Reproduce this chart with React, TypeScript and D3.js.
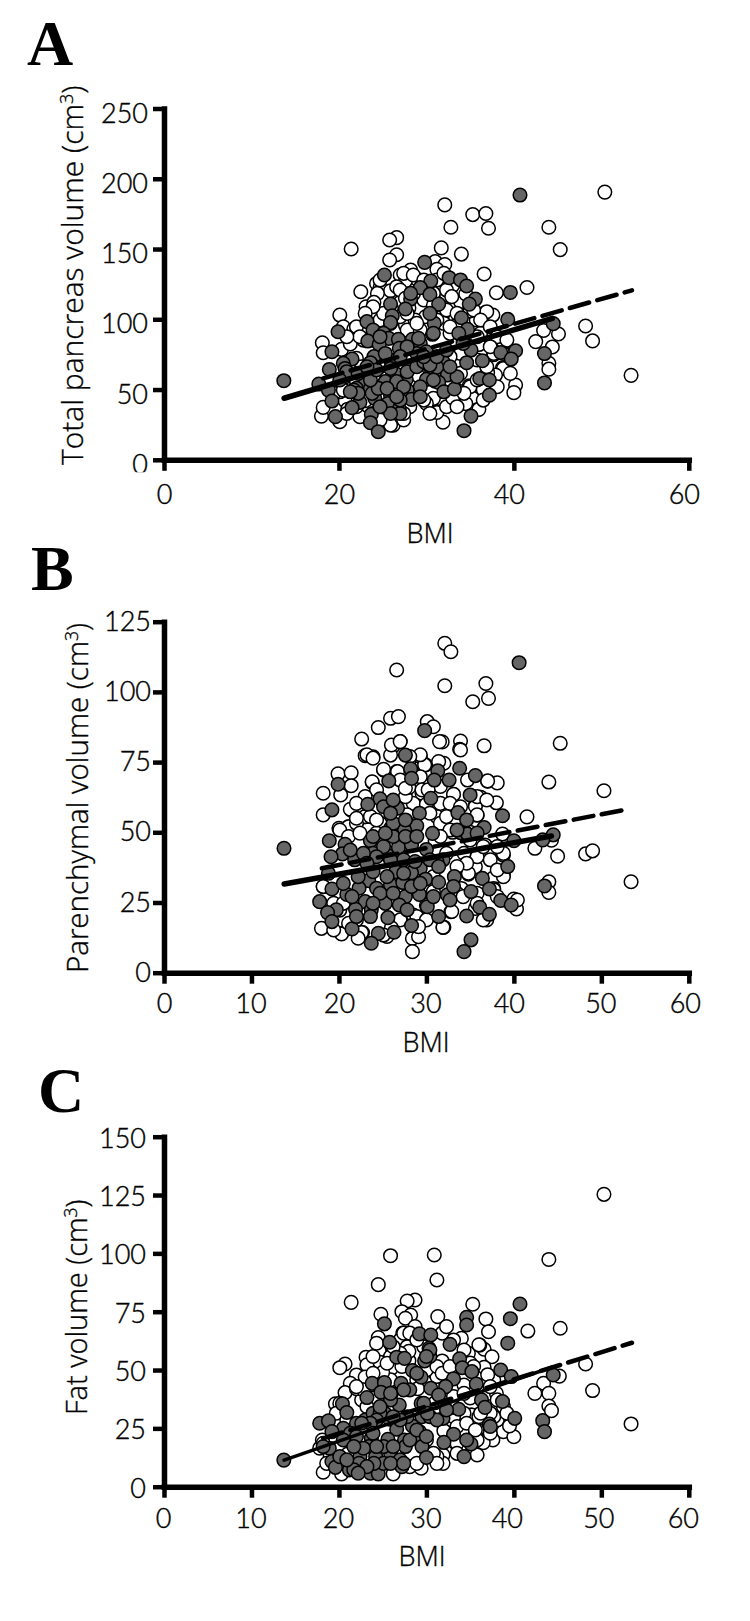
// App.tsx - pancreas volume vs BMI, three stacked scatter panels
import * as d3 from "d3";
import React, { useRef, useEffect } from "react";

type Pt = [number, number];

const bmiLabel = "BMI";

// panel A: [BMI, total pancreas volume]
const totalWhite: Pt[] = [
  [50.4, 190.5], [32.1, 181.4], [35.3, 174.5], [36.8, 175.3], [32.8, 165.5], [37.1, 164.8], [44, 165.5], [45.3, 149.6],
  [34, 146.4], [31.7, 150.8], [36.6, 132.2], [38, 118.9], [41.5, 122.6], [31, 141], [32.1, 139], [48.2, 95.2],
  [49, 84.6], [53.4, 60.1], [43.4, 92], [45.1, 89.5], [42.5, 84.1], [44.4, 80.3], [44, 68.7], [44, 64.5],
  [40.2, 53.2], [40, 47.8], [38.8, 83.4], [38.7, 65.5], [37.6, 103], [36.7, 104.7], [37.7, 74.8], [35.3, 43.7],
  [35.8, 35.6], [31.2, 34.4], [31.9, 26.8], [30.8, 43.7], [34.9, 52.7], [26.2, 24.6], [26.6, 158.1], [25.8, 156.4],
  [26.6, 145.9], [25.8, 142.2], [21.4, 150], [22.5, 119.6], [23.1, 108.9], [20.1, 103], [20.5, 94.7], [21.7, 93],
  [18.1, 83.3], [18.2, 76.2], [20.3, 78.6], [21.3, 82.4], [23.9, 104.2], [24.3, 125.5], [24.7, 122.7], [25.9, 120.3],
  [24.4, 118.4], [27, 131.5], [28.2, 135], [28.8, 129.1], [27.6, 127.2], [31.2, 135.5], [29.9, 101.8], [27.6, 95.9],
  [28.7, 99.5], [26.6, 123.2], [31.6, 123.2], [32.3, 117.2], [33.9, 112.5], [29.7, 113.7], [36.9, 105.4], [35.7, 99.5],
  [31.8, 101.8], [32.7, 90], [36.2, 90], [37.7, 75.7], [38.8, 65], [38.8, 84], [37.9, 60.3], [35, 52],
  [33.9, 61.5], [35.8, 71], [28.1, 37.8], [25.9, 24.7], [31.2, 33.7], [36, 35.9], [20.1, 27.1], [18, 31.1],
  [18.2, 37.3], [20.7, 42], [20.1, 48.4], [22.4, 30.7], [22, 72.2], [22.6, 66.2], [24.7, 66.2], [21.3, 50.1],
  [33.5, 49.6], [32.3, 37.8], [30, 40.1], [23.9, 33], [25.1, 34.2], [27.4, 28.3], [28.9, 44.9], [22.8, 85.2],
  [24.7, 99.5], [23.9, 85.2], [27.8, 92.3], [29.3, 92.3], [32, 97.1], [33.9, 75.7], [32.7, 73.4], [30.4, 66.2],
  [27, 112], [28.5, 118], [30.2, 126], [33, 124], [34.5, 118], [35, 106], [26, 108], [24, 112],
  [28, 108], [30.8, 110], [33.5, 96], [36, 82], [34.2, 84], [22, 56], [24, 52], [26, 44],
  [29, 60], [31, 56], [33, 44], [34.5, 40], [21, 36], [23, 42], [36.5, 50], [37, 62],
  [24.7, 127.9], [27.4, 132.7], [28.5, 131.5], [27, 120.8], [27.6, 114.9], [29.7, 127.9], [31.2, 127.9], [32.3, 120.8],
  [32.9, 116.1], [32, 132.7], [30.8, 118.4], [32.3, 106.6], [33.5, 104.2], [35.4, 106.6], [36.2, 99.5], [37.3, 94.7],
  [38.1, 87.6], [39.2, 85.2], [35.8, 87.6], [28.9, 97.1], [27, 101.8], [27.8, 104.2], [25.9, 97.1], [25.1, 104.2],
  [23.9, 108.9], [23, 104.2], [22, 94.7], [22.4, 87.6], [20.9, 87.6], [31.2, 99.5], [32.7, 94.7], [37.3, 80.5],
  [38.8, 75.7], [39.6, 61.5], [36.9, 66.2], [35.8, 56.8], [38.1, 52], [34.3, 47.3], [32.7, 56.8], [33.5, 37.8],
  [36.5, 42.5], [29.7, 42.5], [30.4, 33], [27.4, 33], [24.7, 28.3], [22, 37.8], [20.9, 33], [19.4, 47.3], [20.5, 49.6],
];
const totalGray: Pt[] = [
  [13.7, 56.3], [44.5, 96.9], [43.5, 75.6], [43.5, 54.7],
  [40.7, 188.4], [29.8, 140.5], [25.2, 131.5], [32.6, 129.6], [33.9, 128], [34.6, 123.7], [30.5, 127.2], [29.3, 122.5],
  [30.4, 117.7], [28.2, 114.4], [35.6, 114.4], [39.6, 119.1], [34.9, 110.8], [25.9, 110.8], [31.4, 110.8], [27.6, 107.3],
  [26.1, 102.5], [25.9, 97.6], [39.3, 99.9], [34, 101.1], [23.2, 98.3], [30.9, 97.1], [23.9, 92.3], [19.9, 91.1],
  [30.7, 89.3], [34.7, 92.8], [33.7, 90], [25.1, 90], [25.7, 86.4], [26.8, 85.7], [28.4, 85.7], [23.3, 84.5],
  [24.6, 82.1], [26.9, 79.3], [29.3, 82.8], [19.2, 76.9], [35.1, 78.1], [38.5, 76.4], [40.2, 77.6], [39.7, 71.7],
  [24, 73.4], [21.5, 71.7], [20.5, 68.6], [23.6, 69.1], [25.9, 71], [28.9, 75.7], [30, 76.9], [31.9, 69.8],
  [34.6, 69.1], [36.4, 70.5], [18.9, 64.3], [20.7, 65], [31.2, 65.8], [28.5, 66.2], [26.6, 60.8], [32.4, 60.3],
  [36.1, 57.9], [37.2, 56.8], [27.7, 57.2], [25.3, 55.6], [30, 57.2], [17.7, 53.9], [23, 54.4], [31.4, 55.1],
  [29.3, 52], [18.8, 49.6], [27.8, 49.6], [22, 50.8], [23.6, 50.8], [25.9, 46], [32, 48.4], [33.2, 50.4],
  [37.2, 46], [24.1, 43.7], [19.2, 41.8], [25.6, 40.1], [28.3, 43], [22.4, 40.9], [21.5, 37.1], [26.9, 36.1],
  [23.7, 32.3], [19.6, 30.7], [23.6, 26.4], [27, 33], [35.1, 31.1], [24.5, 20], [34.3, 20.7],
  [21.7, 49.6], [22.2, 47.3], [23.8, 47.3], [24.5, 50.8], [26.6, 55.6], [25.9, 65], [27.8, 62.7], [28.9, 66.2],
  [29.7, 69.8], [30.4, 67.4], [23.6, 56.8], [27.8, 80.5], [27, 73.4], [25.3, 75.7], [24.7, 87.6], [29.1, 86.4],
  [29.7, 73.4], [25.9, 33], [27, 42.5], [24.7, 37.8], [31.2, 73.4], [33.5, 59.1], [32.3, 78.1], [34.2, 82.8],
  [28.2, 118.4], [30.4, 104.2], [30.8, 90], [20.9, 62.7], [20.1, 56.8], [22.2, 61.5], [24.3, 63.9], [27.4, 52],
  [30.8, 56.8], [32.7, 66.2], [23.2, 66.2], [25.5, 50.8], [26.6, 44.9], [29.3, 44.9], [21.3, 48.4],
];
const totalSolid: Pt[] = [[13.73, 43.8], [44.4, 100.6]];
const totalDashed: Pt[] = [[18.2, 58], [53.5, 120.6]];

// panel B: [BMI, parenchymal volume]
const parenchymaWhite: Pt[] = [
  [32.1, 117.3], [32.8, 114.3], [32.1, 102.2], [36.8, 103], [37.1, 97.7], [35.3, 96.5], [45.3, 81.7], [33.9, 82.5],
  [33.8, 79.6], [36.6, 80.8], [31.8, 82.2], [44, 67.9], [50.3, 64.8], [34.7, 68.6], [37, 68.2], [38.1, 67.6],
  [33.1, 63.5], [36.2, 62.1], [35.6, 59.7], [38, 60.5], [41.5, 55.5], [35.8, 56.1], [38.7, 49.4], [42.4, 44.3],
  [44.3, 47.2], [45, 41.5], [48.2, 42.3], [49, 43.4], [53.4, 32.4], [38.8, 41.9], [35.6, 37.7], [38.8, 34.8],
  [37.7, 33.9], [34.8, 35.1], [44, 32.4], [44, 28.6], [40, 26.2], [40.3, 22.7], [36.8, 19], [32.8, 21.7],
  [31.9, 16.1], [37.7, 30], [35.6, 22.9], [37.3, 44.3], [36.1, 42.5], [36.7, 45.5], [26.6, 107.8], [25.9, 90.6],
  [26.8, 91.2], [24.5, 87.3], [22.6, 83.2], [30.1, 89.4], [30.8, 87.6], [31.5, 82.3], [27, 82.3], [26.2, 80.7],
  [25.9, 77.5], [23, 77.3], [23.9, 76.9], [25.1, 72.2], [26.6, 71.6], [19.9, 70.8], [21.4, 71.2], [21.4, 66.6],
  [20.2, 63.3], [23.8, 67.8], [18.2, 63.9], [18.2, 56.2], [21.4, 57.9], [20.1, 51.2], [21.1, 52], [22.2, 54.4],
  [23, 55.6], [24.7, 53.2], [18, 15.8], [20.3, 14], [22.7, 14.3], [28.4, 12.2], [28.4, 7.5], [29.1, 12.8],
  [32, 16.2], [28.5, 20.5], [18.2, 30.6], [20.1, 22.3], [29.5, 74.6], [29.9, 74], [29.3, 76.9], [32, 74.6],
  [28.5, 60.3], [31.2, 55.6], [33.9, 79.3], [31.4, 75.2], [29.8, 74], [29.3, 77.6], [25.1, 72.4], [26.7, 71.6],
  [23.8, 68], [37, 68.3], [36.2, 62.5], [33.1, 63.5], [31.6, 66.3], [29.5, 63.9], [27.6, 62.7], [21.3, 58.2],
  [23, 55.6], [31.6, 53.2], [35.6, 59.2], [35.8, 56.2], [27.8, 56.2], [24.7, 53.2], [20, 51.4], [21.1, 52],
  [38.8, 42.5], [34.8, 35.4], [38.8, 34.2], [18.2, 30.7], [30.8, 28.9], [32.9, 21.8], [36.9, 18.8], [31.9, 16.2],
  [20.3, 13.8], [22.6, 14.3], [25.5, 12.9], [22, 18.8], [27, 18.8], [28.9, 20], [32.3, 42.5], [34.3, 42.5],
  [37.3, 43.7], [35.8, 41.3], [35.8, 28.3], [37.7, 29.5], [24.3, 49.7], [22, 53.2], [19.4, 24.7], [33, 50],
  [31, 47], [30, 60], [28, 66], [33, 58], [35, 50], [34, 30], [30, 24], [26, 16],
  [23.2, 77.6], [23.9, 76.4], [26, 81.1], [27, 82.3], [28.1, 77], [29.3, 69.8], [27, 68.6], [24.3, 65.1],
  [23, 62.7], [22, 60.3], [27.6, 65.7], [29.5, 65.1], [30.2, 65.1], [31.6, 60.3], [32.7, 60.3], [33.9, 59.1],
  [35.8, 62.7], [36.9, 61.5], [23.6, 55.6], [22, 55], [24.3, 54.4], [30.4, 56.8], [32.3, 55.6], [32.7, 50.8],
  [31.6, 48.5], [35, 47.3], [36.5, 44.9], [38.1, 44.9], [37.3, 40.2], [38.1, 36.6], [34.6, 39], [33.5, 37.8],
  [20.1, 50.8], [21.1, 48.5], [22.4, 49.7], [20.5, 24.7], [30.8, 34.2], [33.5, 28.3], [34.2, 27.1], [35.8, 24.7],
  [38.1, 27.1], [40.4, 25.9], [36.5, 18.8], [30, 18.8], [29.1, 16.4], [25.1, 13.4], [22.2, 12.3], [19.4, 15.2], [21.1, 17.6],
];
const parenchymaGray: Pt[] = [
  [13.72, 44.3], [40.6, 110.4], [44.5, 49.1], [43.3, 47.3], [43.5, 30.9],
  [29.8, 86.2], [27.6, 77.5], [33.8, 72.8], [28.2, 72.6], [31.3, 71.9], [35.6, 70.2], [28.3, 69.2], [30.9, 68.6],
  [32.6, 68.6], [25.7, 68.3], [19.9, 67.1], [35, 63.3], [24.7, 61.9], [30.5, 62.1], [23.3, 60], [26.7, 58.6],
  [19.2, 58], [38.7, 55.9], [29.2, 56.8], [33.6, 57], [34.6, 54.4], [28.9, 52.3], [25.9, 51.4], [27.5, 50.8],
  [36.6, 51.7], [30.7, 49.6], [33.9, 49.9], [34.7, 49.4], [18.9, 47], [23.6, 47], [20.7, 45.7], [40, 47],
  [26.8, 44.7], [28.3, 45.5], [30, 43.9], [23.9, 42.5], [20.4, 42.3], [19.1, 41.3], [25.5, 41.9], [27.4, 40.2],
  [21.8, 40.2], [31.9, 40.2], [31.2, 39.6], [39.3, 37.8], [29.3, 37.2], [26.5, 36], [18.8, 35.4], [28.3, 35.6],
  [36.4, 33.6], [23.4, 32.8], [33.2, 34.2], [29.9, 33.3], [31.4, 32.2], [25.9, 31.3], [27.3, 32.1], [37.2, 29.8],
  [22.3, 30.1], [19.2, 29.8], [24.3, 30.1], [35.1, 28.9], [20.9, 27.9], [29.2, 27.9], [32.4, 27.7], [27.6, 27.1],
  [17.8, 25.3], [23, 25.3], [25.3, 24.7], [38.5, 25.7], [39.7, 24.1], [26.9, 24.1], [30.1, 23.5], [36.1, 23.3],
  [19.7, 22.4], [21.9, 22.6], [23.7, 22.4], [37.2, 20.8], [34.6, 20.2], [31.4, 20], [25.6, 19.6], [18.7, 21.4],
  [19.2, 18.2], [28.3, 16.8], [21.5, 15.6], [24.5, 14], [26.3, 14.4], [23.7, 10.5], [35.1, 11.7], [34.3, 7.5],
  [25.1, 44.9], [24.3, 41.3], [26.2, 48.5], [27.6, 48.5], [28.9, 48.5], [25.9, 40.2], [28.7, 39.6], [30.4, 40.2],
  [23.9, 36], [25.5, 34.2], [27.4, 35.4], [22.2, 34.2], [20.5, 31.8], [24.7, 28.3], [26.2, 28.3], [30.8, 27.1],
  [21.5, 27.1], [23.9, 24.7], [27.8, 22.4], [23.6, 20], [22, 20], [26.2, 53.2], [27.6, 54.4], [25.1, 59.1],
  [26.2, 61.5], [25.9, 56.8], [23.9, 48.5], [25.3, 49.7], [21.3, 43.7], [33.1, 30.7], [32.7, 25.9], [31.4, 37.8],
  [22.8, 42.5], [23.2, 39], [28.3, 30.7], [29.3, 31.8], [33.5, 50.8], [35.8, 49.7],
];
const parenchymaSolid: Pt[] = [[13.74, 31.6], [44.3, 48.7]];
const parenchymaDashed: Pt[] = [[18.05, 37.2], [52.5, 57.9]];

// panel C: [BMI, fat volume]
const fatWhite: Pt[] = [
  [50.3, 125.3], [44, 97.4], [45.3, 67.9], [41.6, 66.7], [35.3, 78.2], [36.8, 71.9], [37.1, 66.4], [34, 63.6],
  [48.2, 52.6], [49, 41.2], [53.4, 26.9], [42.4, 40], [43.4, 44.3], [44, 40], [44, 34.6], [44.3, 32.6],
  [45.2, 47.4], [36.6, 58.9], [34.8, 57.2], [37.5, 55.7], [36.6, 51.2], [37.7, 45.7], [38.8, 23.6], [40, 21.4],
  [37.6, 20], [36.5, 18.9], [35.8, 13.6], [31.9, 13.6], [31.9, 10], [33.3, 18.9], [38.8, 31.4], [35.1, 30.7],
  [35.6, 22.9], [36.1, 60.7], [25.9, 99], [30.9, 99.3], [31.2, 88.6], [24.5, 86.6], [21.4, 79], [28.7, 80],
  [27.8, 79.6], [27.2, 75], [24.8, 73.9], [28.2, 73.6], [31.3, 72.9], [27.6, 72.2], [28.7, 68.6], [27.3, 65.8],
  [24.5, 63.9], [31.8, 65.8], [36, 60.8], [24.6, 58.3], [23.1, 55.5], [23.2, 52.2], [20.7, 52.6], [20.1, 51],
  [31.8, 53.9], [26, 50.8], [22, 47.9], [24.7, 53.3], [31, 48.6], [29.4, 7.9], [26.2, 5.5], [18.2, 6.2],
  [20.3, 5.5], [18.1, 20], [17.8, 16.5], [21.3, 44.3], [20.7, 40.3], [19.6, 35.5], [22.6, 37.2], [35.2, 30.7],
  [34.3, 31.5], [38.8, 31.5], [38.8, 34.3], [38.1, 28.6], [35.8, 24.3], [33.1, 30], [33.5, 25.8], [33.1, 38.6],
  [31.2, 12.9], [30.8, 14.3], [28.1, 8.6], [20.7, 20], [23.6, 34.3], [28.9, 45.8], [34.3, 43.6], [31.2, 47.2],
  [25.9, 45.8], [37.1, 40], [37.7, 30], [32.3, 68.6], [33.1, 62.9], [27, 62.9], [29.7, 60], [27.8, 60],
  [26, 56], [28, 54], [30, 50], [33, 50], [35, 53], [22, 42], [24, 38], [26, 40],
  [32, 24], [30, 20], [34, 18], [36, 30], [38, 40], [39.5, 26], [19, 13], [21, 14],
  [23, 47], [25, 49], [29, 42], [31, 36], [33, 34], [35, 38], [37, 48], [28, 58],
  [23.9, 55.8], [25.9, 55.8], [27, 57.2], [31.2, 51.5], [31.8, 48.6], [32.7, 51.5], [37.3, 42.9], [38.1, 37.2],
  [39.2, 31.5], [37.3, 31.5], [35.8, 20], [33.5, 18.6], [33.5, 14.3], [31.2, 10], [28.9, 10], [22.8, 41.5],
  [22, 42.9], [23.2, 34.3], [20.1, 35.7], [19.7, 31.5], [20.9, 28.6], [18.2, 18.6], [18.6, 10], [27.4, 65.8],
  [28.1, 65.8], [28.9, 62.9], [26.2, 60], [24.3, 61.5], [23.9, 48.6], [25.5, 52.9], [27.2, 51.5], [34.3, 58.6],
  [35.4, 51.5], [34.3, 40], [36.2, 31.5], [34.6, 27.2], [35.6, 24.3], [37.3, 22.9],
];
const fatGray: Pt[] = [
  [13.7, 11.4], [44.5, 47.9], [43.3, 28.3], [43.5, 23.6],
  [25.2, 69.8], [29.2, 65.5], [30.5, 65], [34.6, 72.6], [34.6, 69.3], [40.7, 78.3], [39.6, 72], [39.3, 61.5],
  [25.8, 61.9], [32.7, 61], [30.3, 59.3], [26.6, 55.5], [27.5, 55], [30.4, 55.8], [29.8, 53.9], [33.8, 54.8],
  [34.1, 51], [35.2, 49.3], [38.5, 50], [39.7, 47.2], [28.4, 49.8], [29.4, 46.9], [33.1, 46.2], [35.7, 44],
  [23.8, 44.3], [25.2, 44.6], [27.1, 44.3], [32.2, 42.9], [28.1, 41.5], [30.5, 42.2], [24.8, 40.5], [23.2, 38.2],
  [31.4, 39.3], [36.3, 37.2], [38.7, 36.5], [36.7, 34], [29.4, 35.7], [26.9, 35], [20.4, 35.5], [20.9, 31.8],
  [33.7, 33.2], [25.3, 31.2], [23, 28.6], [25.8, 28.9], [17.8, 27.2], [18.8, 28.2], [20.5, 25], [19.2, 23.6],
  [22, 27.2], [29.5, 30], [31.9, 29.3], [40.1, 29.3], [37.2, 26.8], [28.4, 26], [26.6, 24.6], [29.2, 23.6],
  [33.1, 22.5], [23.7, 20.8], [25.6, 20.3], [27.5, 20], [29, 20.8], [32, 19], [35.1, 18.3], [18.9, 16.5],
  [23.4, 17.2], [25.9, 14.3], [27.6, 17.2], [29.5, 17.2], [34.3, 12.9], [30, 12.5], [27, 11.5], [22.4, 12.9],
  [19.2, 10.8], [19.6, 8.3], [22.3, 10], [23.6, 5.8], [24.5, 5.5], [21.2, 7.2], [27.2, 8.6], [24.2, 12.9],
  [23.9, 31.5], [24.7, 31.5], [25.9, 37.2], [24.7, 34.3], [27.8, 30], [27, 28.6], [26.2, 30], [24.3, 28.6],
  [23.6, 27.2], [22.6, 27.2], [21.3, 22.9], [22, 21.5], [20.5, 20], [23.9, 22.9], [25.1, 17.2], [26.2, 17.2],
  [24.3, 17.2], [22.8, 16.5], [21.7, 17.2], [28.1, 20], [28.9, 24.3], [30, 21.5], [29.7, 35.7], [30.4, 30],
  [31.2, 28.6], [32.3, 32.9], [30.1, 31.5], [25.1, 10], [24, 10], [25.9, 10], [27.4, 10], [23.2, 8.6],
  [21.7, 7.2], [22.2, 5.8], [20.1, 12.9], [18.2, 17.2], [20.9, 11.5], [37.3, 25.8], [34.6, 20], [30.4, 58.6],
  [30, 55.8], [28.9, 48.6], [25.9, 40], [27.4, 41.5],
];
const fatSolid: Pt[] = [[13.73, 11.4], [44.5, 51.4]];
const fatDashed: Pt[] = [[18.2, 20.7], [53.5, 61.7]];

const xTicksA = [0, 20, 40, 60];
const xTicksBC = [0, 10, 20, 30, 40, 50, 60];
const yTicksA = [0, 50, 100, 150, 200, 250];
const yTicksB = [0, 25, 50, 75, 100, 125];
const yTicksC = [0, 25, 50, 75, 100, 125, 150];

const TICK_FONT = "Lato, 'Open Sans', sans-serif";
const TITLE_FONT = "'Open Sans', Lato, sans-serif";

function Panel({ letter, letterX, letterY, title, titleX, titleY, titleSize, white, gray, solid, dashed,
  xTicks, xLabelShift, yTicks, yMax, top, bottom, yLabelRight, yLabelDy, xLabelY, bmiX, bmiY, clipZero, solidWidth }: any) {
  const axisX = useRef<SVGGElement>(null);
  const axisY = useRef<SVGGElement>(null);

  const x = d3.scaleLinear().domain([0, 60]).range([164, 688.8]);
  const y = d3.scaleLinear().domain([0, yMax]).range([bottom, top]);
  const line = d3.line<Pt>().x((d) => x(d[0])).y((d) => y(d[1]));

  useEffect(() => {
    const gx = d3.select(axisX.current!)
      .attr("transform", `translate(0, ${bottom})`)
      .call(d3.axisBottom(x).tickValues(xTicks).tickSize(11).tickSizeOuter(0) as any);
    const gy = d3.select(axisY.current!)
      .attr("transform", "translate(164, 0)")
      .call(d3.axisLeft(y).tickValues(yTicks).tickSize(11).tickSizeOuter(0) as any);

    // heavy black axes, the lines run a bit past the corner
    gx.select(".domain").attr("stroke", "#000").attr("stroke-width", 5.5).attr("stroke-linecap", "square");
    gy.select(".domain").attr("stroke", "#000").attr("stroke-width", 5.5).attr("stroke-linecap", "square");
    gx.selectAll(".tick line").attr("stroke", "#000").attr("stroke-width", 4.5);
    gy.selectAll(".tick line").attr("stroke", "#000").attr("stroke-width", 4.5);

    gx.selectAll<SVGTextElement, number>(".tick text")
      .attr("font-family", TICK_FONT)
      .attr("font-size", 27)
      .attr("font-weight", 300)
      .attr("fill", "#000")
      .attr("stroke", "#000")
      .attr("stroke-width", 0.4)
      .attr("y", 0)
      .attr("dy", 0)
      .attr("transform", (d, i) => `translate(${xLabelShift[i]}, ${xLabelY - bottom})`);
    gy.selectAll<SVGTextElement, number>(".tick text")
      .attr("font-family", TICK_FONT)
      .attr("font-size", 27)
      .attr("font-weight", 300)
      .attr("fill", "#000")
      .attr("stroke", "#000")
      .attr("stroke-width", 0.4)
      .attr("x", yLabelRight - 164)
      .attr("dy", 9.5 + yLabelDy);
    if (clipZero) {
      gy.selectAll<SVGTextElement, number>(".tick text")
        .filter((d) => d === 0)
        .attr("clip-path", "url(#clip-zero)");
    }
  }, []);

  return (
    <g>
      {clipZero && (
        <clipPath id="clip-zero" clipPathUnits="userSpaceOnUse">
          <rect x={-60} y={-30} width={60} height={42} />
        </clipPath>
      )}
      <text x={letterX} y={letterY} fontFamily="'Liberation Serif', serif" fontWeight="bold" fontSize={64}>{letter}</text>
      <g ref={axisX} />
      <g ref={axisY} />
      {white.map((d: Pt, i: number) => (
        <circle key={i} cx={x(d[0])} cy={y(d[1])} r={6.8} fill="#fff" stroke="#000" strokeWidth={1.5} />
      ))}
      {gray.map((d: Pt, i: number) => (
        <circle key={i} cx={x(d[0])} cy={y(d[1])} r={6.8} fill="#666" stroke="#000" strokeWidth={1.5} />
      ))}
      <path d={line(dashed) as string} fill="none" stroke="#000" strokeWidth={4.5} strokeDasharray="20 8.5" strokeLinecap="round" />
      <path d={line(solid) as string} fill="none" stroke="#000" strokeWidth={solidWidth} strokeLinecap="round" />
      <text
        transform={`translate(${titleX}, ${titleY}) rotate(-90)`}
        fontFamily={TITLE_FONT}
        fontWeight={300}
        fontSize={titleSize}
        fill="#000"
        stroke="#000"
        strokeWidth={0.35}
      >
        {title}
        <tspan dy={-10} fontSize={titleSize * 0.6}>3</tspan>
        <tspan dy={10}>)</tspan>
      </text>
      <text x={bmiX} y={bmiY} textAnchor="middle" fontFamily={TITLE_FONT} fontWeight={300} fontSize={27} fill="#000" stroke="#000" strokeWidth={0.35}>{bmiLabel}</text>
    </g>
  );
}

export default function App() {
  return (
    <svg width={750} height={1621} style={{ position: "absolute", left: 0, top: 0, background: "#fff" }}>
      <Panel
        letter="A" letterX={27} letterY={65}
        title="Total pancreas volume (cm" titleX={83} titleY={465} titleSize={30}
        white={totalWhite} gray={totalGray} solid={totalSolid} dashed={totalDashed}
        xTicks={xTicksA} xLabelShift={[0, 0, -5, -5]} yTicks={yTicksA} yMax={250}
        top={108.5} bottom={459.8} yLabelRight={148} yLabelDy={4} xLabelY={504}
        bmiX={430} bmiY={543} clipZero solidWidth={5.5}
      />
      <Panel
        letter="B" letterX={31} letterY={590}
        title="Parenchymal volume (cm" titleX={88} titleY={973} titleSize={29.5}
        white={parenchymaWhite} gray={parenchymaGray} solid={parenchymaSolid} dashed={parenchymaDashed}
        xTicks={xTicksBC} xLabelShift={[0, -1, 0, -1, -5, -1, -4]} yTicks={yTicksB} yMax={125}
        top={621.7} bottom={972.7} yLabelRight={151} yLabelDy={-1} xLabelY={1013}
        bmiX={426} bmiY={1052} solidWidth={5.5}
      />
      <Panel
        letter="C" letterX={38} letterY={1112}
        title="Fat volume (cm" titleX={87} titleY={1415} titleSize={29}
        white={fatWhite} gray={fatGray} solid={fatSolid} dashed={fatDashed}
        xTicks={xTicksBC} xLabelShift={[-1, -1, -1, -1, -7, -3, -6]} yTicks={yTicksC} yMax={150}
        top={1136.7} bottom={1486.7} yLabelRight={146} yLabelDy={1} xLabelY={1528}
        bmiX={422} bmiY={1566} solidWidth={3.5}
      />
    </svg>
  );
}
